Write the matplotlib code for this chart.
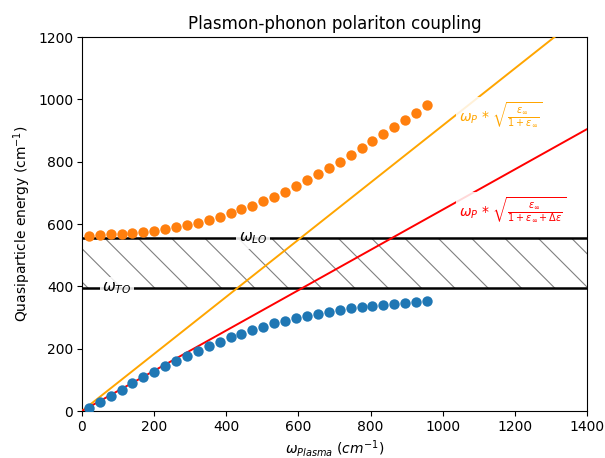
import matplotlib
matplotlib.use('Agg')
import matplotlib.pyplot as plt

# plasma frequency sweep (cm^-1)
w_plasma = [20, 50, 80, 110, 140, 170, 200, 230, 261, 291, 321, 351, 382, 412, 442, 472,
            503, 533, 563, 593, 624, 654, 684, 714, 745, 775, 805, 835, 866, 896, 926, 956]
# upper and lower coupled branches
upper = [563, 565, 567, 569, 571, 574, 578, 583, 589, 596, 604, 613, 624, 635, 647, 659,
         673, 688, 704, 722, 741, 760, 780, 800, 821, 843, 865, 888, 911, 934, 957, 981]
lower = [10, 30, 49, 69, 89, 108, 126, 144, 160, 177, 193, 209, 223, 236, 248, 259,
         271, 281, 290, 299, 305, 311, 317, 323, 329, 334, 338, 341, 344, 347, 349, 352]

w_LO = 555
w_TO = 395
x_range = [0, 1400]
slope_inf = 0.916      # sqrt(eps_inf / (1 + eps_inf))
slope_static = 0.646   # sqrt(eps_inf / (1 + eps_inf + d_eps))

plt.rcParams['font.size'] = 5
plt.rcParams['axes.linewidth'] = 0.4
plt.rcParams['xtick.major.width'] = 0.4
plt.rcParams['ytick.major.width'] = 0.4
plt.rcParams['xtick.major.size'] = 1.75
plt.rcParams['ytick.major.size'] = 1.75
plt.rcParams['xtick.major.pad'] = 1.4
plt.rcParams['ytick.major.pad'] = 1.4
plt.rcParams['hatch.linewidth'] = 0.4
plt.rcParams['hatch.color'] = 'gray'

fig = plt.figure(figsize=(3.025, 2.29), facecolor='white')
ax = fig.add_axes([0.1355, 0.1026, 0.8347, 0.8166])

ax.fill_between(x_range, [w_TO, w_TO], [w_LO, w_LO], facecolor='none',
                edgecolor='gray', hatch='\\\\', linewidth=0)
ax.axhline(w_LO, color='black', lw=0.9, zorder=2)
ax.axhline(w_TO, color='black', lw=0.9, zorder=2)

ax.plot(x_range, [x_range[0] * slope_inf, x_range[1] * slope_inf], color='orange', lw=0.7, zorder=3)
ax.plot(x_range, [x_range[0] * slope_static, x_range[1] * slope_static], color='red', lw=0.7, zorder=3)

ax.scatter(w_plasma, upper, s=14, color='tab:orange', linewidths=0, zorder=4)
ax.scatter(w_plasma, lower, s=14, color='tab:blue', linewidths=0, zorder=4)

box = dict(facecolor='white', edgecolor='none', alpha=0.85, pad=1)
ax.text(474, w_LO, r'$\omega_{LO}$', ha='center', va='center', fontsize=5.5, bbox=box, zorder=5)
ax.text(97, w_TO, r'$\omega_{TO}$', ha='center', va='center', fontsize=5.5, bbox=box, zorder=5)
ax.text(1045, 950, r'$\omega_P$ * $\sqrt{\frac{\epsilon_\infty}{1+\epsilon_\infty}}$',
        color='orange', ha='left', va='center', fontsize=5, bbox=box, zorder=5)
ax.text(1045, 645, r'$\omega_P$ * $\sqrt{\frac{\epsilon_\infty}{1+\epsilon_\infty+\Delta\epsilon}}$',
        color='red', ha='left', va='center', fontsize=5, bbox=box, zorder=5)

ax.set_xlim(0, 1400)
ax.set_ylim(0, 1200)
ax.set_xlabel(r'$\omega_{Plasma}$ $(cm^{-1})$', labelpad=1.5)
ax.set_ylabel(r'Quasiparticle energy (cm$^{-1}$)', labelpad=2)
ax.set_title('Plasmon-phonon polariton coupling', fontsize=6, pad=3)

fig.savefig('out.png', dpi=200)
